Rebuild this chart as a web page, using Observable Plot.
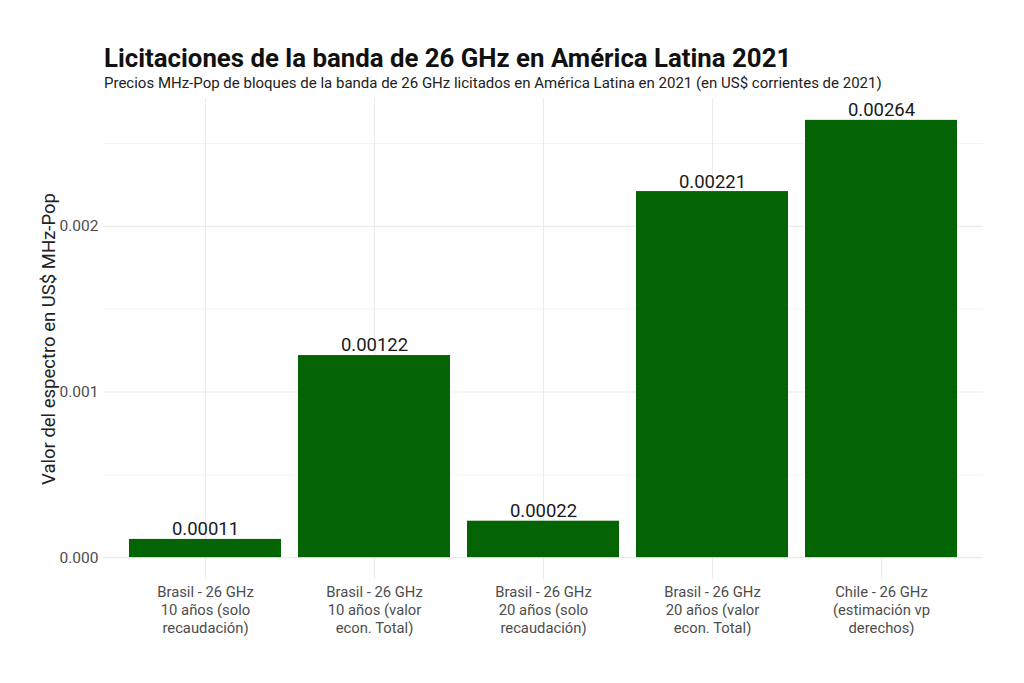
<!DOCTYPE html>
<html>
<head>
<meta charset="utf-8">
<script src="https://cdn.jsdelivr.net/npm/d3@7"></script>
<script src="https://cdn.jsdelivr.net/npm/@observablehq/plot@0.6"></script>
<style>
  html, body { margin: 0; padding: 0; background: #ffffff; }
  body { width: 1024px; height: 683px; overflow: hidden; font-family: Roboto, "Noto Sans", sans-serif; }
  #header { position: relative; height: 90px; }
  #title { position: absolute; left: 104px; top: 46px; font-size: 25.8px; line-height: 25.8px; font-weight: 700; color: #111; white-space: nowrap; }
  #subtitle { position: absolute; left: 104px; top: 76px; font-size: 15px; line-height: 15px; color: #222; white-space: nowrap; }
</style>
</head>
<body>
<div id="header">
  <div id="title">Licitaciones de la banda de 26 GHz en América Latina 2021</div>
  <div id="subtitle">Precios MHz-Pop de bloques de la banda de 26 GHz licitados en América Latina en 2021 (en US$ corrientes de 2021)</div>
</div>
<div id="chart"></div>
<script>
const categories = [
  "Brasil - 26 GHz\n10 años (solo\nrecaudación)",
  "Brasil - 26 GHz\n10 años (valor\necon. Total)",
  "Brasil - 26 GHz\n20 años (solo\nrecaudación)",
  "Brasil - 26 GHz\n20 años (valor\necon. Total)",
  "Chile - 26 GHz\n(estimación vp\nderechos)"
];
const values = [0.00011, 0.00122, 0.00022, 0.00221, 0.00264];
const yTicks = [0, 0.001, 0.002];
const yMinorTicks = [0.0005, 0.0015, 0.0025];
const yLabel = "Valor del espectro en US$ MHz-Pop";

const data = categories.map((c, i) => ({cat: c, value: values[i]}));
const yMax = d3.max(values);
const pad = yMax * 0.05;

const chart = Plot.plot({
  width: 1024,
  height: 593,
  marginTop: 8,
  marginBottom: 104,
  marginLeft: 103,
  marginRight: 41,
  style: {fontFamily: "Roboto, sans-serif", fontSize: "13px", background: "#ffffff"},
  x: {domain: categories, paddingInner: 0.1, paddingOuter: 0.15, label: null},
  y: {domain: [-pad, yMax + pad], label: null},
  marks: [
    Plot.ruleY(yMinorTicks, {stroke: "#ebebeb", strokeWidth: 0.6}),
    Plot.ruleY(yTicks, {stroke: "#ebebeb", strokeWidth: 1.1}),
    Plot.gridX({stroke: "#ebebeb", strokeOpacity: 1, strokeWidth: 1.1}),
    Plot.barY(data, {x: "cat", y: "value", fill: "#046404"}),
    Plot.text(data, {x: "cat", y: "value", text: d => d.value.toFixed(5), dy: -10, fontSize: 18.5, fill: "#1a1a1a"}),
    Plot.axisY({ticks: yTicks, tickFormat: d3.format(".3f"), tickSize: 0, tickPadding: 5, fontSize: 15.5, fill: "#4d4d4d",
      label: yLabel, labelAnchor: "center", labelArrow: "none", labelOffset: 62}),
    Plot.axisX({tickSize: 0, tickPadding: 5, fontSize: 14.8, fill: "#4d4d4d", lineHeight: 1.2, label: null})
  ]
});
document.getElementById("chart").appendChild(chart);
chart.querySelectorAll("g[aria-label='y-axis label'] text, g[aria-label='y-axis label']").forEach(el => {
  el.setAttribute("fill", "#222");
  el.setAttribute("font-size", "18.5");
});
</script>
</body>
</html>
